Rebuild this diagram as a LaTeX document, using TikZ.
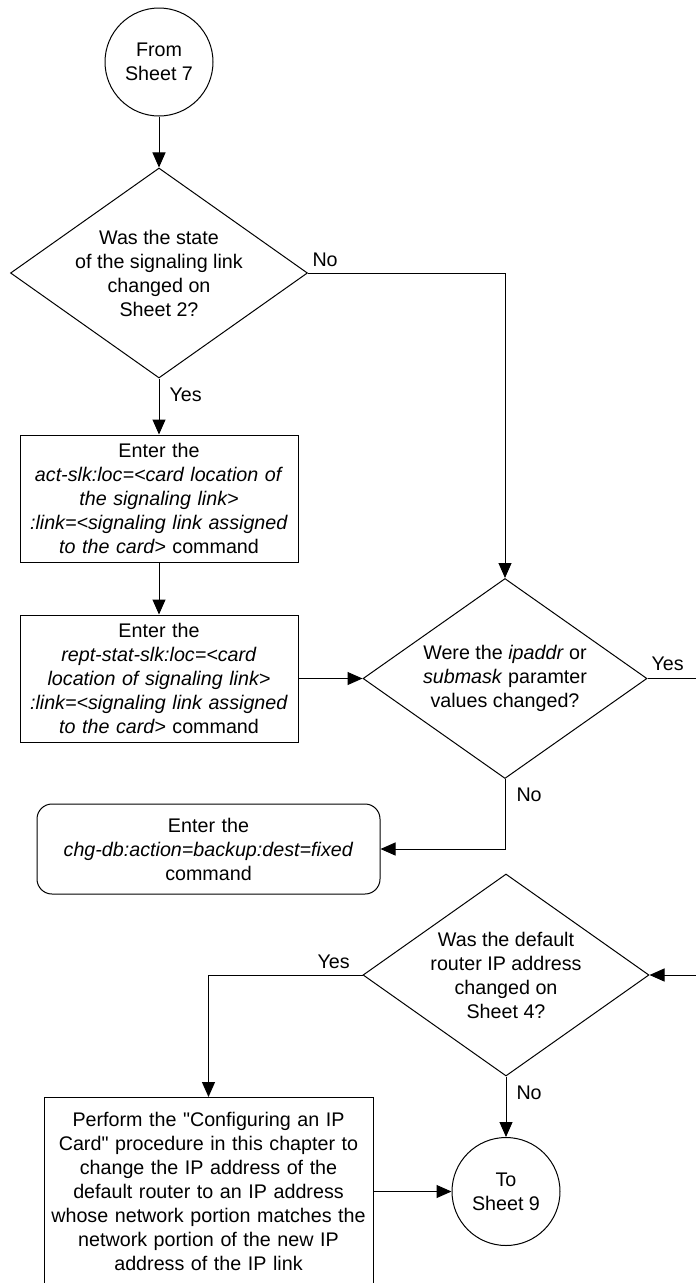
\documentclass[tikz,border=0pt]{standalone}
\usepackage{fontspec}
\setmainfont{Liberation Sans}
\usetikzlibrary{positioning,shapes.geometric,arrows.meta}

\begin{document}
\begin{tikzpicture}[x=1pt,y=-1pt,line width=1pt,
    every node/.style={font=\fontsize{19.7}{24}\selectfont},
    term/.style={draw,circle,minimum size=108pt,inner sep=0pt,align=center},
    dec/.style={draw,diamond,inner sep=0pt,align=center},
    box/.style={draw,text width=270pt,inner sep=4pt,align=center},
    rbox/.style={box,rounded corners=15pt},
    arr/.style={-{Triangle[length=15pt,width=13pt]}},
    lbl/.style={anchor=west,inner sep=0pt}
  ]
    \useasboundingbox (0,0) rectangle (696,1283);
    % left column
    \node[term] (from) at (159,62) {From\\Sheet 7};
    \node[dec,minimum width=297pt,minimum height=210pt,aspect=1.41] (d1) at (159,273)
      {Was the state\\of the signaling link\\changed on\\Sheet 2?};
    \node[box,minimum height=127pt] (act) at (159,498.5)
      {Enter the\\\textit{act-slk:loc=<card location of}\\\textit{the signaling link>}\\
       \textit{:link=<signaling link assigned}\\\textit{to the card>} command};
    \node[box,minimum height=127pt] (rept) at (159,678.5)
      {Enter the\\\textit{rept-stat-slk:loc=<card}\\\textit{location of signaling link>}\\
       \textit{:link=<signaling link assigned}\\\textit{to the card>} command};
    % right column
    \node[dec,minimum width=284pt,minimum height=200pt,aspect=1.42] (d2) at (505,678.5)
      {Were the \textit{ipaddr} or\\\textit{submask} paramter\\values changed?};
    \node[rbox,text width=335pt,minimum height=90pt] (bkup) at (208.5,849)
      {Enter the\\\textit{chg-db:action=backup:dest=fixed}\\command};
    \node[dec,minimum width=286pt,minimum height=202pt,aspect=1.416] (d3) at (506,975)
      {Was the default\\router IP address\\changed on\\Sheet 4?};
    \node[box,text width=321pt,minimum height=188pt] (ipcard) at (208.5,1191.5)
      {Perform the \textquotedbl{}Configuring an IP\\Card\textquotedbl{} procedure in this chapter to\\
       change the IP address of the\\default router to an IP address\\whose network portion matches the\\
       network portion of the new IP\\address of the IP link};
    \node[term] (to) at (506,1191.5) {To\\Sheet 9};
    \coordinate (offa) at (696,678.5);
    \coordinate (offb) at (696,975);
    % connectors
    \draw[arr] (from) -- (d1);
    \draw[arr] (d1) -- (act);
    \draw[arr] (act) -- (rept);
    \draw[arr] (d1.east) -| (d2.north);
    \draw[arr] (rept.east) -- (d2.west);
    \draw (d2.east) -- (offa);
    \draw[arr] (d2.south) |- (bkup.east);
    \draw[arr] (offb) -- (d3.east);
    \draw[arr] (d3.west) -| (ipcard.north);
    \draw[arr] (d3.south) -- (to);
    \draw[arr] (ipcard.east) -- (to.west);
    % labels
    \node[lbl] (l1) at (312,260) {No};
    \node[lbl] (l2) at (169,395) {Yes};
    \node[lbl] (l3) at (651,664) {Yes};
    \node[lbl] (l4) at (516,795) {No};
    \node[lbl] (l5) at (317,962) {Yes};
    \node[lbl] (l6) at (516,1093) {No};
  \end{tikzpicture}
\end{document}
